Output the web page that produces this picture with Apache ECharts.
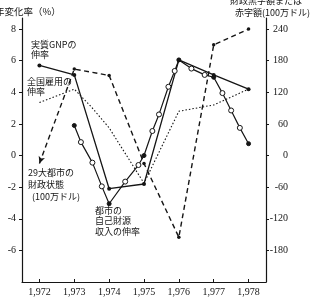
<!DOCTYPE html>
<html>
<head>
<meta charset="utf-8">
<script src="https://cdn.jsdelivr.net/npm/echarts@6/dist/echarts.min.js"></script>
<style>
  html, body { margin: 0; padding: 0; background: #fff; }
  #main { width: 311px; height: 302px; }
</style>
</head>
<body>
<div id="main"></div>
<script>
// years on the bottom axis
const years = [1972, 1973, 1974, 1975, 1976, 1977, 1978]
const leftTicks = [-6, -4, -2, 0, 2, 4, 6, 8]
const rightTicks = [-180, -120, -60, 0, 60, 120, 180, 240]

// 実質GNPの伸率 (%)
const gnpGrowth = [[1972, 5.7], [1973, 5.1], [1974, -2.1], [1975, -1.8], [1976, 6.05], [1977, 5.1], [1978, 4.2]]
// 全国雇用の伸率 (%)
const employmentGrowth = [[1972, 3.35], [1973, 4.2], [1973.5, 3.05], [1974, 1.75], [1975, -1.75], [1976, 2.8], [1977, 3.2], [1978, 4.2]]
// 都市の自己財源収入の伸率 (%)
const revenueGrowth = [
  [1973, 1.9], [1973.19, 0.85], [1973.52, -0.45], [1973.79, -1.95], [1974, -3.05],
  [1974.46, -1.65], [1974.84, -0.6], [1975, 0], [1975.24, 1.55], [1975.43, 2.6],
  [1975.7, 4.35], [1975.88, 5.35], [1976, 6.05], [1976.36, 5.5], [1976.74, 5.1],
  [1977, 4.95], [1977.25, 3.95], [1977.5, 2.85], [1977.75, 1.75], [1978, 0.75]
]
// 29大都市の財政状態 (100万ドル)
const cityBalance = [[1972, -15], [1973, 164], [1974, 152], [1975, -15], [1976, -155], [1977, 210], [1978, 240]]

const ink = '#151515'
const numFont = '"Liberation Serif", "DejaVu Serif", serif'
const jpFont = '"Noto Sans CJK JP", sans-serif'

const chart = echarts.init(document.getElementById('main'), null, { renderer: 'canvas' })

const note = (text, x, y, extra) => ({
  type: 'text',
  left: x,
  top: y,
  silent: true,
  style: Object.assign({
    text: text,
    fill: ink,
    font: '9px ' + jpFont,
    lineHeight: 10,
  }, extra || {}),
})

chart.setOption({
  animation: false,
  backgroundColor: '#fff',
  grid: { left: 22, right: 45, top: 18, bottom: 20 },
  xAxis: {
    type: 'value',
    min: 1971.5,
    max: 1978.5,
    axisLine: { show: true, onZero: false, lineStyle: { color: ink, width: 1.2 } },
    axisTick: { show: true, inside: true, length: 3, customValues: years, lineStyle: { color: ink } },
    axisLabel: { customValues: years, color: ink, fontFamily: numFont, fontSize: 10, margin: 5 },
    splitLine: { show: false },
  },
  yAxis: [
    {
      type: 'value',
      min: -8,
      max: 8.7,
      position: 'left',
      axisLine: { show: true, onZero: false, lineStyle: { color: ink, width: 1.2 } },
      axisTick: { show: true, length: 3, customValues: leftTicks, lineStyle: { color: ink } },
      axisLabel: { customValues: leftTicks, color: ink, fontFamily: numFont, fontSize: 10, margin: 6 },
      splitLine: { show: false },
    },
    {
      type: 'value',
      min: -240,
      max: 261,
      position: 'right',
      axisLine: { show: true, onZero: false, lineStyle: { color: ink, width: 1.2 } },
      axisTick: { show: true, length: 3, customValues: rightTicks, lineStyle: { color: ink } },
      axisLabel: { customValues: rightTicks, color: ink, fontFamily: numFont, fontSize: 10, margin: 22, align: 'right' },
      splitLine: { show: false },
    },
  ],
  series: [
    {
      name: '全国雇用の伸率',
      type: 'line',
      data: employmentGrowth,
      symbol: 'none',
      lineStyle: { color: ink, width: 1.1, type: [1.5, 2] },
    },
    {
      name: '29大都市の財政状態',
      type: 'line',
      yAxisIndex: 1,
      data: cityBalance.map((d, i) => i === 0
        ? { value: d, symbol: 'arrow', symbolSize: [5, 7], symbolRotate: 160 }
        : { value: d }),
      symbol: 'circle',
      symbolSize: 3.5,
      itemStyle: { color: ink },
      lineStyle: { color: ink, width: 1.4, type: [5, 3.5] },
    },
    {
      name: '実質GNPの伸率',
      type: 'line',
      data: gnpGrowth,
      symbol: 'circle',
      symbolSize: 4,
      itemStyle: { color: ink },
      lineStyle: { color: ink, width: 1.3 },
    },
    {
      name: '都市の自己財源収入の伸率',
      type: 'line',
      data: revenueGrowth.map(d => Number.isInteger(d[0])
        ? { value: d, symbolSize: 4, itemStyle: { color: ink, borderColor: ink, borderWidth: 1 } }
        : { value: d, symbolSize: 5, itemStyle: { color: '#fff', borderColor: ink, borderWidth: 1 } }),
      symbol: 'circle',
      lineStyle: { color: ink, width: 1.2 },
    },
  ],
  graphic: [
    note('年変化率（%）', -5, 6, { font: '9.5px ' + jpFont }),
    note('財政黒字額または', 230, -4, { font: '9px ' + jpFont }),
    note('赤字額(100万ドル)', 235, 8, { font: '9px ' + jpFont }),
    note('実質GNPの\n伸率', 31, 40),
    note('全国雇用の\n伸率', 27, 77),
    note('29大都市の\n財政状態\n  (100万ドル)', 28, 167, { lineHeight: 12 }),
    note('都市の\n自己財源\n収入の伸率', 95, 205, { lineHeight: 10.5 }),
  ],
})
</script>
</body>
</html>
